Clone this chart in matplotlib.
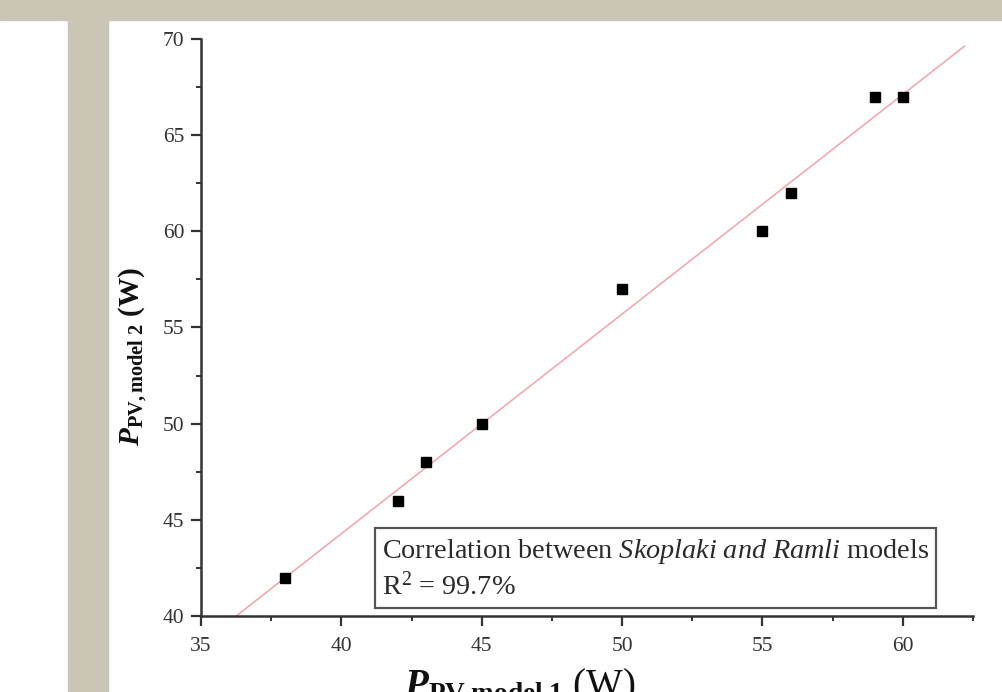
import numpy as np
import matplotlib
matplotlib.use("Agg")
import matplotlib.pyplot as plt
from matplotlib.patches import Rectangle
from matplotlib.ticker import MultipleLocator

plt.rcParams['font.family'] = ['Liberation Serif', 'DejaVu Serif']
plt.rcParams['mathtext.fontset'] = 'custom'
plt.rcParams['mathtext.rm'] = 'Liberation Serif'
plt.rcParams['mathtext.it'] = 'Liberation Serif:italic'
plt.rcParams['mathtext.bf'] = 'Liberation Serif:bold'
plt.rcParams['mathtext.bfit'] = 'Liberation Serif:italic:bold'

# power from model 1 (Skoplaki) vs model 2 (Ramli), W
p_model1 = [38, 42, 43, 45, 50, 55, 56, 59, 60]
p_model2 = [42, 46, 48, 50, 57, 60, 62, 67, 67]
r2_text = "R$^2$ = 99.7%"

fig = plt.figure(figsize=(10.03, 6.92), dpi=100)
beige = '#cbc5b6'
fig.add_artist(Rectangle((0, 1 - 20/692), 1, 20/692, transform=fig.transFigure,
                         color=beige, zorder=0))
fig.add_artist(Rectangle((68/1003, 0), 40/1003, 1, transform=fig.transFigure,
                         color=beige, zorder=0))

ax = fig.add_axes([201/1003, 1 - 616/692, (973 - 201)/1003, (616 - 39)/692])
ax.set_facecolor('none')

# linear fit
m, b = np.polyfit(p_model1, p_model2, 1)
xs = np.array([(40 - b)/m, 62.2])
ax.plot(xs, m*xs + b, color='#f2a9b0', lw=1.2, zorder=2)
ax.plot(p_model1, p_model2, 's', color='black', ms=7.5, zorder=3)

ax.set_xlim(35, 62.5)
ax.set_ylim(40, 70)
ax.xaxis.set_major_locator(MultipleLocator(5))
ax.xaxis.set_minor_locator(MultipleLocator(2.5))
ax.yaxis.set_major_locator(MultipleLocator(5))
ax.yaxis.set_minor_locator(MultipleLocator(2.5))

for s in ['top', 'right']:
    ax.spines[s].set_visible(False)
for s in ['left', 'bottom']:
    ax.spines[s].set_linewidth(1.8)
    ax.spines[s].set_color('#333333')
ax.tick_params(which='major', direction='out', length=7, width=1.6,
               color='#333333', labelsize=15.5, labelcolor='#333333')
ax.tick_params(which='minor', direction='out', length=3.5, width=1.4, color='#333333')
ax.tick_params(axis='x', which='major', pad=8)
ax.tick_params(axis='y', which='major', pad=5)

# annotation box
ax.text(0.234, 0.026, "Correlation between $\\mathit{Skoplaki\\ and\\ Ramli}$ models\n" + r2_text,
        transform=ax.transAxes, fontsize=20.3, color='#2a2a2a', va='bottom', ha='left',
        linespacing=1.3,
        bbox=dict(boxstyle='square,pad=0.25', facecolor='white', edgecolor='#555555', lw=1.6))

# axis labels
fig.text(133/1003, 1 - 357/692,
         r"$\mathbfit{P}_{\mathbf{PV,model\ 2}}$ $\mathbf{(W)}$",
         rotation=90, ha='center', va='center', fontsize=21, color='#111111')
fig.text(520/1003, 1 - 667/692,
         r"$\mathbfit{P}_{\mathbf{PV\ model\ 1}}$ (W)",
         ha='center', va='top', fontsize=28, color='#111111')

fig.savefig("out.png", dpi=100, facecolor='white')
